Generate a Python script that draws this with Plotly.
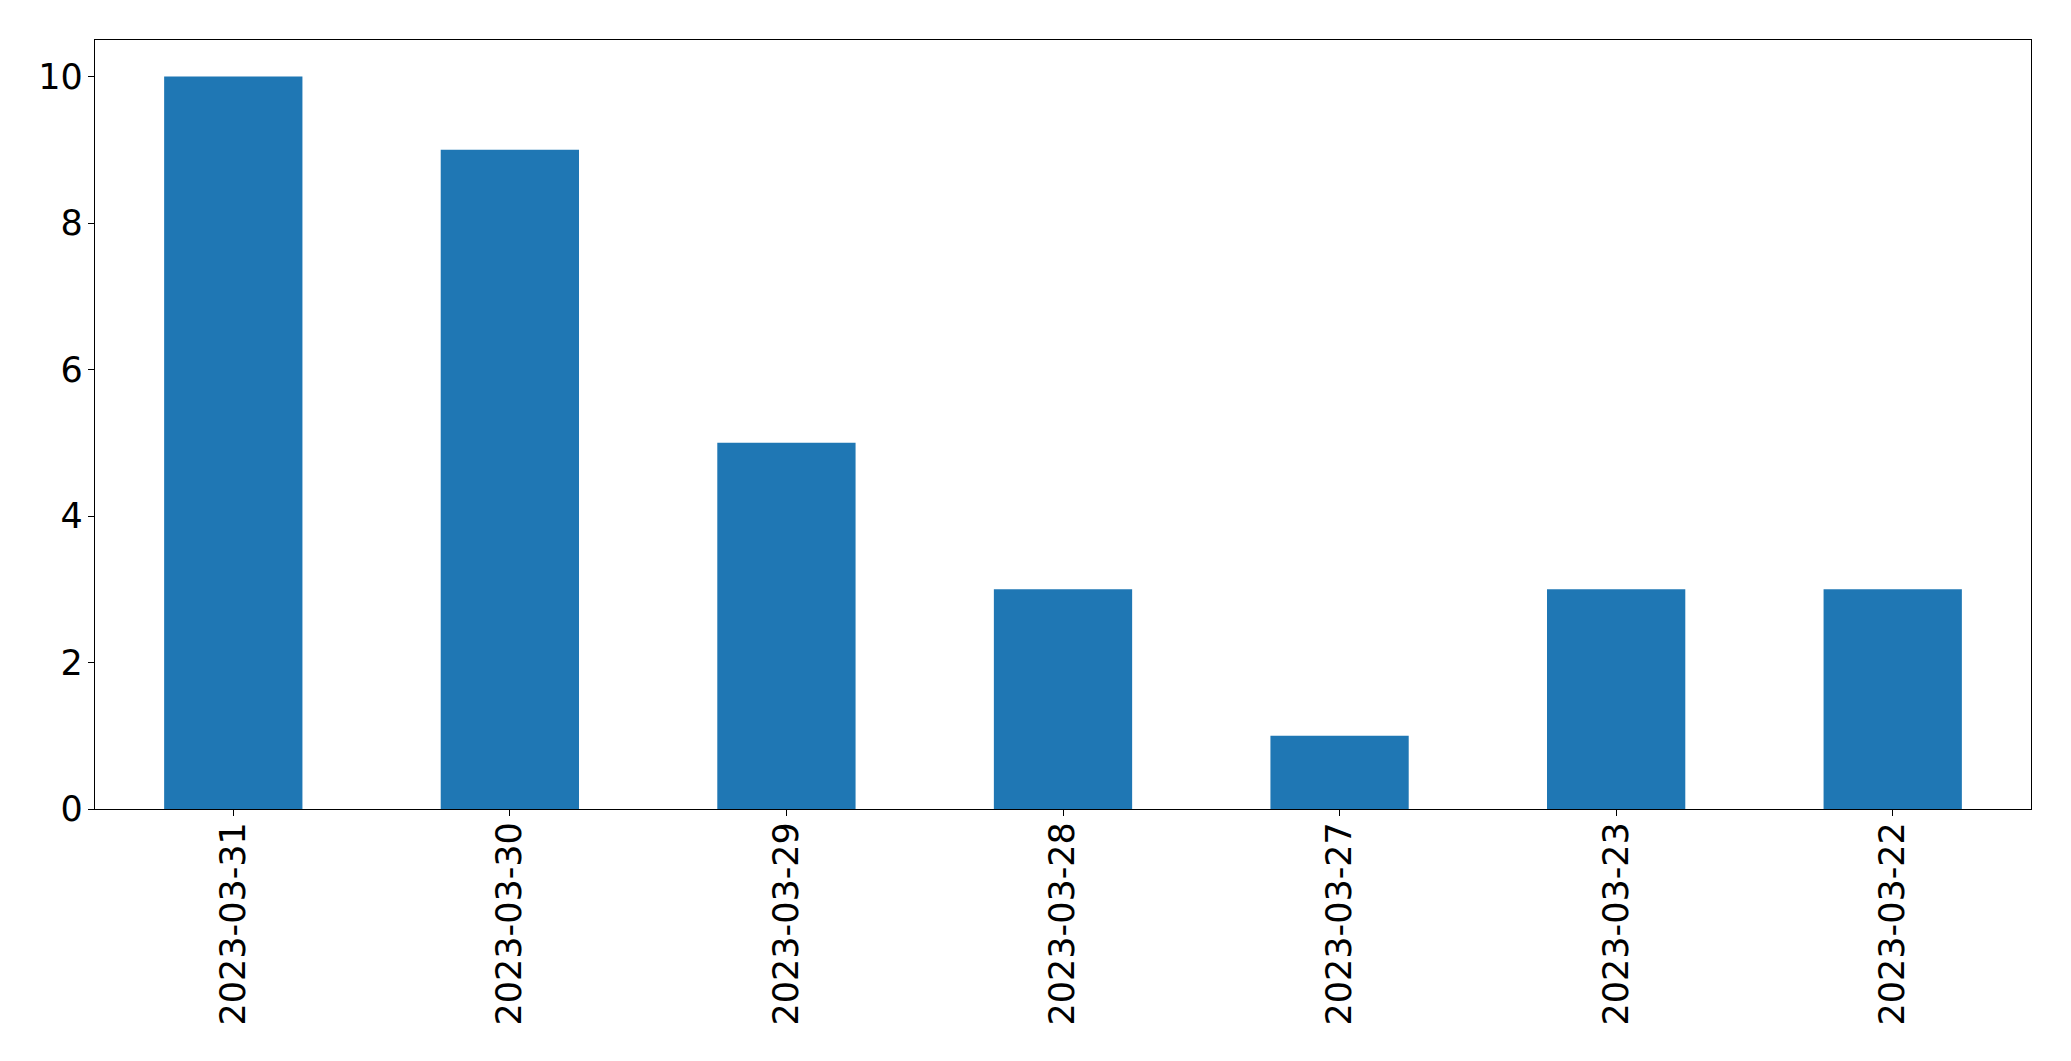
import plotly.graph_objects as go

dates = ["2023-03-31", "2023-03-30", "2023-03-29", "2023-03-28", "2023-03-27", "2023-03-23", "2023-03-22"]
counts = [10, 9, 5, 3, 1, 3, 3]
y_ticks = [0, 2, 4, 6, 8, 10]

fig = go.Figure(go.Bar(x=dates, y=counts, marker=dict(color="#1f77b4", line=dict(width=0)), width=0.5))

font = dict(family="DejaVu Sans", size=35, color="black")
fig.update_layout(
    width=2063, height=1053,
    margin=dict(l=86.5, r=39.5, t=31.5, b=252),
    paper_bgcolor="white", plot_bgcolor="white",
    showlegend=False,
    font=font,
)
fig.update_xaxes(
    type="category", range=[-0.5, 6.5], tickangle=-90,
    showline=True, linecolor="black", linewidth=1.3, mirror=True,
    ticks="outside", ticklen=6, tickcolor="black", tickwidth=1.3,
    showgrid=False, zeroline=False, tickfont=font, ticklabelstandoff=-8,
)
fig.update_yaxes(
    range=[0, 10.5], tickvals=y_ticks, ticktext=[str(v) for v in y_ticks],
    showline=True, linecolor="black", linewidth=1.3, mirror=True,
    ticks="outside", ticklen=6, tickcolor="black", tickwidth=1.3,
    showgrid=False, zeroline=False, tickfont=font, ticklabelstandoff=-2,
)
fig.write_html("out.html")
